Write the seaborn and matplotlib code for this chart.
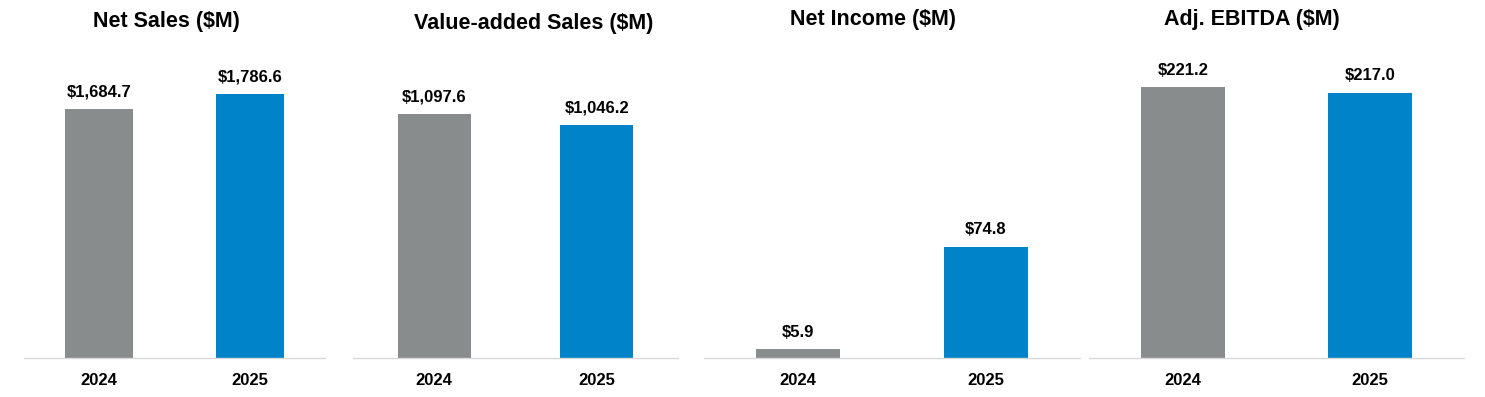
import matplotlib
matplotlib.use("Agg")
import matplotlib.pyplot as plt
import pandas as pd
import seaborn as sns

YEARS = ["2024", "2025"]
TITLES = ["Net Sales ($M)", "Value-added Sales ($M)", "Net Income ($M)", "Adj. EBITDA ($M)"]
NET_SALES = [1684.7, 1786.6]
VALUE_ADDED_SALES = [1097.6, 1046.2]
NET_INCOME = [5.9, 74.8]
ADJ_EBITDA = [221.2, 217.0]

COLORS = {"2024": "#898c8c", "2025": "#0083c9"}

# panel layout in pixels (left, right), y top limit, title position
W, H = 1485, 397
PANELS = [
    (24, 325, 2151, 166, 21),
    (353, 678, 1429, 534, 24),
    (704, 1080, 214, 873, 20),
    (1089, 1464, 260, 1252, 19),
]
BASE_Y = 358
TOP_Y = 40


def fmt(v):
    return f"${v:,.1f}"


def main():
    sns.set_theme(style="white")
    plt.rcParams["font.family"] = ["Liberation Sans", "DejaVu Sans"]
    fig = plt.figure(figsize=(W / 100, H / 100), dpi=100)

    series = [NET_SALES, VALUE_ADDED_SALES, NET_INCOME, ADJ_EBITDA]
    for (x0, x1, ymax, tx, ty), title, vals in zip(PANELS, TITLES, series):
        ax = fig.add_axes([x0 / W, 1 - BASE_Y / H, (x1 - x0) / W, (BASE_Y - TOP_Y) / H])
        df = pd.DataFrame({"year": YEARS, "value": vals})
        sns.barplot(data=df, x="year", y="value", hue="year", palette=COLORS,
                    width=0.45, legend=False, ax=ax, saturation=1, linewidth=0)
        ax.set_xlim(-0.5, 1.5)
        ax.set_ylim(0, ymax)
        ax.set_xlabel("")
        ax.set_ylabel("")
        ax.set_yticks([])
        for s in ("top", "left", "right"):
            ax.spines[s].set_visible(False)
        ax.spines["bottom"].set_color("#d9d9d9")
        ax.spines["bottom"].set_linewidth(1.0)
        ax.tick_params(axis="x", length=0, pad=10.5, labelsize=12, labelcolor="black")
        for lab in ax.get_xticklabels():
            lab.set_fontweight("bold")
        for i, v in enumerate(vals):
            ax.annotate(fmt(v), (i, v), xytext=(0, 7), textcoords="offset points",
                        ha="center", va="bottom", fontsize=12, fontweight="bold",
                        color="black")
        fig.text(tx / W, 1 - ty / H, title, ha="center", va="center",
                 fontsize=15.5, fontweight="bold", color="black")

    fig.savefig("out.png", dpi=100)


if __name__ == "__main__":
    main()
